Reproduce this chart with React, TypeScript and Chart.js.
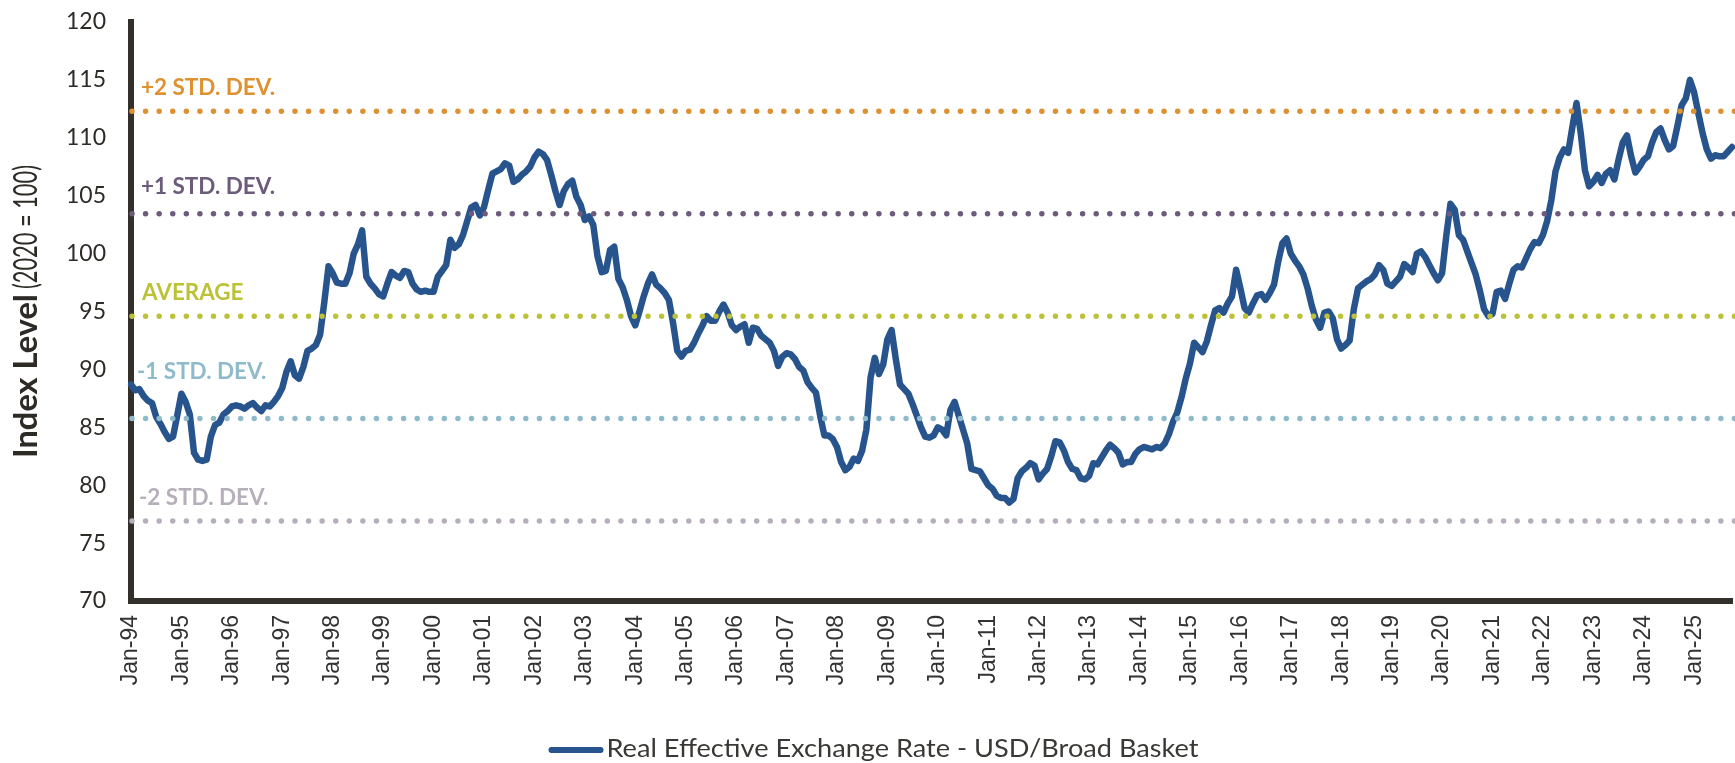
import React, { useEffect, useRef } from "react";
import { Chart, registerables } from "chart.js";

Chart.register(...registerables);

const MONTH_NAMES = ["Jan", "Feb", "Mar", "Apr", "May", "Jun", "Jul", "Aug", "Sep", "Oct", "Nov", "Dec"];
const FIRST_YEAR = 1994;

const y1994 = [88.7, 88.2, 88.3, 87.7, 87.3, 87.1, 85.9, 85.3, 84.6, 84.0, 84.2, 86.0];
const y1995 = [87.9, 87.2, 86.1, 82.8, 82.2, 82.1, 82.2, 84.2, 85.2, 85.4, 86.1, 86.4];
const y1996 = [86.8, 86.9, 86.8, 86.6, 86.9, 87.1, 86.7, 86.4, 86.9, 86.8, 87.2, 87.7];
const y1997 = [88.4, 89.8, 90.7, 89.5, 89.2, 90.2, 91.6, 91.8, 92.1, 93.0, 95.8, 98.9];
const y1998 = [98.3, 97.5, 97.4, 97.4, 98.3, 100.0, 100.8, 102.0, 98.0, 97.4, 97.0, 96.5];
const y1999 = [96.3, 97.4, 98.4, 98.1, 97.9, 98.5, 98.4, 97.4, 96.9, 96.7, 96.8, 96.7];
const y2000 = [96.7, 98.0, 98.5, 99.0, 101.2, 100.5, 100.8, 101.6, 102.8, 104.0, 104.2, 103.3];
const y2001 = [104.0, 105.5, 106.9, 107.1, 107.3, 107.8, 107.6, 106.2, 106.4, 106.8, 107.1, 107.5];
const y2002 = [108.3, 108.8, 108.6, 108.1, 106.8, 105.4, 104.2, 105.4, 106.0, 106.3, 104.9, 104.2];
const y2003 = [102.9, 103.2, 102.5, 99.8, 98.4, 98.5, 100.3, 100.6, 97.8, 97.1, 96.0, 94.6];
const y2004 = [93.8, 95.0, 96.3, 97.4, 98.2, 97.3, 97.0, 96.6, 96.0, 94.0, 91.6, 91.1];
const y2005 = [91.6, 91.7, 92.3, 93.1, 93.8, 94.6, 94.2, 94.2, 95.0, 95.6, 94.9, 93.8];
const y2006 = [93.4, 93.7, 93.9, 92.3, 93.6, 93.5, 92.9, 92.6, 92.3, 91.6, 90.3, 91.1];
const y2007 = [91.4, 91.3, 90.9, 90.2, 89.9, 88.9, 88.4, 88.0, 86.0, 84.3, 84.3, 84.0];
const y2008 = [83.3, 82.0, 81.3, 81.6, 82.3, 82.1, 83.0, 84.8, 89.3, 91.0, 89.6, 90.4];
const y2009 = [92.6, 93.4, 90.9, 88.7, 88.3, 87.9, 87.0, 86.0, 85.0, 84.2, 84.1, 84.3];
const y2010 = [85.0, 84.8, 84.3, 86.5, 87.2, 86.0, 84.8, 83.6, 81.4, 81.3, 81.2, 80.6];
const y2011 = [80.0, 79.7, 79.1, 78.9, 78.9, 78.5, 78.8, 80.6, 81.2, 81.5, 81.9, 81.7];
const y2012 = [80.5, 81.0, 81.4, 82.5, 83.8, 83.7, 83.0, 82.0, 81.4, 81.3, 80.6, 80.5];
const y2013 = [80.8, 81.9, 81.8, 82.4, 83.0, 83.5, 83.2, 82.8, 81.8, 82.0, 82.0, 82.7];
const y2014 = [83.1, 83.3, 83.2, 83.1, 83.3, 83.2, 83.6, 84.4, 85.5, 86.3, 87.6, 89.2];
const y2015 = [90.5, 92.3, 91.9, 91.5, 92.4, 93.8, 95.1, 95.3, 94.9, 95.7, 96.3, 98.6];
const y2016 = [97.0, 95.3, 94.9, 95.7, 96.4, 96.5, 96.0, 96.6, 97.3, 99.3, 100.9, 101.3];
const y2017 = [100.0, 99.4, 98.9, 98.2, 97.0, 95.5, 94.3, 93.6, 94.9, 95.0, 94.4, 92.6];
const y2018 = [91.8, 92.1, 92.5, 95.2, 97.0, 97.3, 97.6, 97.8, 98.2, 99.0, 98.6, 97.4];
const y2019 = [97.2, 97.6, 98.0, 99.1, 98.8, 98.4, 100.0, 100.2, 99.7, 99.0, 98.3, 97.7];
const y2020 = [98.3, 101.5, 104.3, 103.8, 101.6, 101.2, 100.2, 99.2, 98.2, 96.8, 95.2, 94.6];
const y2021 = [94.8, 96.7, 96.8, 96.1, 97.4, 98.6, 98.9, 98.8, 99.6, 100.4, 101.0, 100.9];
const y2022 = [101.6, 102.8, 104.6, 107.1, 108.3, 109.0, 108.7, 110.9, 113.0, 110.4, 107.2, 105.8];
const y2023 = [106.2, 106.8, 106.1, 106.9, 107.2, 106.4, 108.1, 109.6, 110.2, 108.4, 107.0, 107.5];
const y2024 = [108.1, 108.4, 109.6, 110.5, 110.8, 109.8, 109.0, 109.3, 111.0, 112.8, 113.4, 115.0];
const y2025 = [113.9, 112.1, 110.4, 109.0, 108.2, 108.5, 108.4, 108.4, 108.8, 109.2];

const reerValues = [
  ...y1994, ...y1995, ...y1996, ...y1997, ...y1998, ...y1999, ...y2000, ...y2001,
  ...y2002, ...y2003, ...y2004, ...y2005, ...y2006, ...y2007, ...y2008, ...y2009,
  ...y2010, ...y2011, ...y2012, ...y2013, ...y2014, ...y2015, ...y2016, ...y2017,
  ...y2018, ...y2019, ...y2020, ...y2021, ...y2022, ...y2023, ...y2024, ...y2025,
];

const categories = reerValues.map(
  (_, i) => `${MONTH_NAMES[i % 12]}-${String((FIRST_YEAR + Math.floor(i / 12)) % 100).padStart(2, "0")}`
);

const SERIES_NAME = "Real Effective Exchange Rate - USD/Broad Basket";
const Y_MIN = 70;
const Y_MAX = 120;
const Y_STEP = 5;

const levelNames = ["+2 STD. DEV.", "+1 STD. DEV.", "AVERAGE", "-1 STD. DEV.", "-2 STD. DEV."];
const levelValues = [112.3, 103.45, 94.6, 85.75, 76.9];
const levelColors = ["#de9130", "#6c5b7b", "#bcc238", "#8fbacb", "#b6afbb"];
const levelLabelLift = [23, 27, 23, 47, 23];
const levelLabelX = [141, 141, 142, 137, 139];

const TITLE_BOLD = "Index Level";
const TITLE_REST = "(2020 = 100)";

const LINE_COLOR = "#27548c";
const AXIS_COLOR = "#33302b";
const TEXT_COLOR = "#2e2b27";

export default function App() {
  const ref = useRef<HTMLCanvasElement>(null);

  useEffect(() => {
    const canvas = ref.current;
    if (!canvas) return;

    const fitSize = (ctx: CanvasRenderingContext2D, text: string, weight: number, family: string, target: number) => {
      ctx.font = `${weight} 100px ${family}`;
      return (100 * target) / ctx.measureText(text).width;
    };

    const overlay = {
      id: "overlay",
      afterDatasetsDraw(chart: any) {
        const { ctx, chartArea, scales } = chart;
        const y = scales.y;
        ctx.save();
        const labelSize = fitSize(ctx, levelNames[0], 700, "Lato", 134);
        levelValues.forEach((lv, k) => {
          const py = y.getPixelForValue(lv);
          ctx.beginPath();
          ctx.setLineDash([0, 13.58]);
          ctx.lineCap = "round";
          ctx.lineWidth = 5.5;
          ctx.strokeStyle = levelColors[k];
          ctx.moveTo(chartArea.left + 1, py);
          ctx.lineTo(chart.width + 5, py);
          ctx.stroke();
          ctx.setLineDash([]);
          ctx.fillStyle = levelColors[k];
          ctx.font = `700 ${labelSize}px Lato`;
          ctx.textAlign = "left";
          ctx.textBaseline = "middle";
          ctx.fillText(levelNames[k], levelLabelX[k], py - levelLabelLift[k]);
        });
        ctx.restore();
      },
      afterDraw(chart: any) {
        const { ctx, chartArea } = chart;
        ctx.save();
        // y-axis title: bold part + condensed regular part
        const bSize = fitSize(ctx, TITLE_BOLD, 700, "Lato", 164);
        ctx.font = `700 ${bSize}px Lato`;
        const wb = ctx.measureText(TITLE_BOLD).width;
        const rSize = bSize * 1.02;
        ctx.font = `400 ${rSize}px Lato`;
        const wrRaw = ctx.measureText(TITLE_REST).width;
        const wr = 124;
        const gap = 5;
        const total = wb + gap + wr;
        ctx.translate(37, (chartArea.top + chartArea.bottom) / 2);
        ctx.rotate(-Math.PI / 2);
        ctx.fillStyle = TEXT_COLOR;
        ctx.textAlign = "left";
        ctx.textBaseline = "alphabetic";
        ctx.font = `700 ${bSize}px Lato`;
        ctx.fillText(TITLE_BOLD, -total / 2, 0);
        ctx.font = `400 ${rSize}px Lato`;
        ctx.translate(-total / 2 + wb + gap, 0);
        ctx.scale(wr / wrRaw, 1);
        ctx.fillText(TITLE_REST, 0, 0);
        ctx.restore();

        // legend
        ctx.save();
        const lSize = 25;
        ctx.font = `400 ${lSize}px Lato`;
        const twRaw = ctx.measureText(SERIES_NAME).width;
        const tw = 592;
        const sample = 55;
        const lx = chart.width / 2 + 6 - (sample + 3 + tw) / 2;
        const ly = 749;
        ctx.beginPath();
        ctx.lineCap = "round";
        ctx.lineWidth = 6;
        ctx.strokeStyle = LINE_COLOR;
        ctx.moveTo(lx + 3, ly + 1);
        ctx.lineTo(lx + sample - 3, ly + 1);
        ctx.stroke();
        ctx.fillStyle = "#3a3835";
        ctx.textAlign = "left";
        ctx.textBaseline = "middle";
        ctx.translate(lx + sample + 3, ly);
        ctx.scale(tw / twRaw, 1);
        ctx.fillText(SERIES_NAME, 0, 0);
        ctx.restore();
      },
    };

    const chart = new Chart(canvas, {
      type: "line",
      data: {
        labels: categories,
        datasets: [
          {
            label: SERIES_NAME,
            data: reerValues,
            borderColor: LINE_COLOR,
            backgroundColor: LINE_COLOR,
            borderWidth: 6.5,
            pointRadius: 0,
            pointHoverRadius: 0,
            tension: 0,
            borderJoinStyle: "round",
            borderCapStyle: "round",
            fill: false,
          },
        ],
      },
      options: {
        responsive: true,
        maintainAspectRatio: false,
        animation: false,
        devicePixelRatio: 1,
        events: [],
        layout: { padding: { top: 22, right: 3, bottom: 0, left: 0 } },
        plugins: {
          legend: { display: false },
          tooltip: { enabled: false },
          title: { display: false },
        },
        scales: {
          x: {
            type: "category",
            offset: false,
            grid: { display: false, drawTicks: false },
            border: { display: true, width: 6, color: AXIS_COLOR },
            ticks: {
              autoSkip: false,
              maxRotation: 90,
              minRotation: 90,
              padding: 14,
              color: "#333333",
              font: { family: "'Liberation Sans', Arial, sans-serif", size: 23 },
              callback: (_v: any, i: number) => (i % 12 === 0 ? categories[i] : ""),
            },
            afterFit: (s: any) => {
              s.height = 162;
              s.paddingLeft = 0;
              s.paddingRight = 0;
            },
          },
          y: {
            min: Y_MIN,
            max: Y_MAX,
            grid: { display: false, drawTicks: false },
            border: { display: true, width: 6, color: AXIS_COLOR },
            ticks: {
              stepSize: Y_STEP,
              padding: 25,
              color: TEXT_COLOR,
              font: { family: "Lato", size: 23 },
            },
            afterFit: (s: any) => {
              s.width = 131;
              s.paddingTop = 0;
              s.paddingBottom = 0;
            },
          },
        },
      },
      plugins: [overlay],
    } as any);

    return () => chart.destroy();
  }, []);

  return (
    <div style={{ position: "fixed", left: 0, top: 0, width: 1735, height: 763, background: "#ffffff" }}>
      <canvas ref={ref} />
    </div>
  );
}
